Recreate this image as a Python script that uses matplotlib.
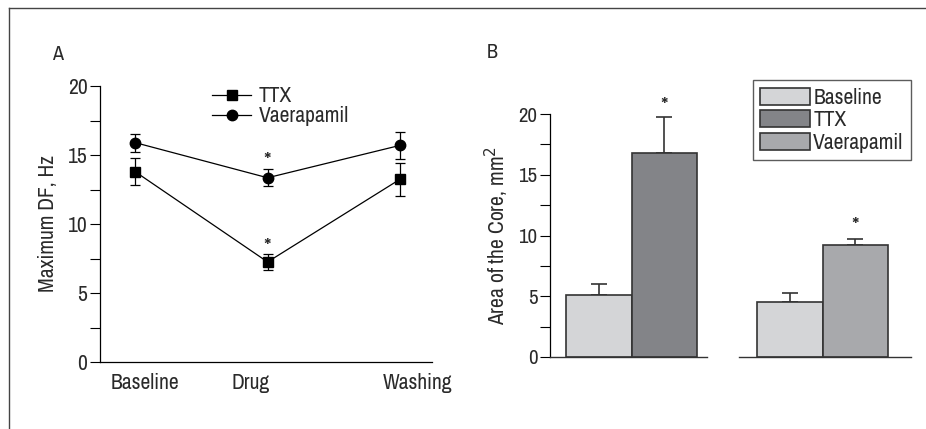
import numpy as np
import matplotlib
matplotlib.use("Agg")
import matplotlib.pyplot as plt
from matplotlib.lines import Line2D
from matplotlib.patches import Patch
from matplotlib.ticker import MultipleLocator

plt.rcParams['font.family'] = ['Archivo Narrow', 'DejaVu Sans']

# panel A data
phases = ["Baseline", "Drug", "Washing"]
ttx_df = [13.8, 7.25, 13.25]
ttx_err = [1.0, 0.55, 1.2]
ver_df = [15.9, 13.35, 15.7]
ver_err = [0.65, 0.63, 1.0]

# panel B data
groups = ["Baseline", "TTX", "Baseline", "Vaerapamil"]
core_ttx = [5.1, 16.8]
core_ttx_err = [0.9, 2.95]
core_ver = [4.55, 9.25]
core_ver_err = [0.7, 0.45]

c_text = '#2a2a2a'
c_base = '#d4d5d7'
c_ttx = '#838488'
c_ver = '#a8a9ac'
fs = 15.5

fig = plt.figure(figsize=(9.26, 4.29), dpi=100)

# outer frame (partly cut off in the reference)
fig.add_artist(Line2D([9/926, 1.0], [1 - 8/429, 1 - 8/429], transform=fig.transFigure, color='#444444', lw=1))
fig.add_artist(Line2D([9/926, 9/926], [0, 1 - 8/429], transform=fig.transFigure, color='#444444', lw=1))

# ----- Panel A -----
ax = fig.add_axes([100/926, 1 - 362/429, 332/926, 276/429])
x = np.arange(len(phases))
ax.errorbar(x, ttx_df, yerr=ttx_err, color='black', marker='s', ms=6.5, lw=0.9,
            capsize=3.5, elinewidth=0.9, capthick=0.9)
ax.errorbar(x, ver_df, yerr=ver_err, color='black', marker='o', ms=7.5, lw=0.9,
            capsize=3.5, elinewidth=0.9, capthick=0.9)
# significance marks just above the caps
ax.text(1, ver_df[1] + ver_err[1] + 0.45, '*', ha='center', va='center', fontsize=17, color=c_text)
ax.text(1, ttx_df[1] + ttx_err[1] + 0.45, '*', ha='center', va='center', fontsize=17, color=c_text)
ax.set_xlim(-0.264, 2.24)
ax.set_ylim(0, 20)
ax.yaxis.set_major_locator(MultipleLocator(5))
ax.yaxis.set_minor_locator(MultipleLocator(2.5))
ax.set_xticks([0.075, 0.87, 2.13])
ax.set_xticklabels(phases)
ax.tick_params(axis='x', length=0, pad=8, labelsize=fs, colors=c_text)
ax.tick_params(axis='y', which='both', length=7, width=0.8, direction='out', pad=2,
               labelsize=fs, labelcolor=c_text)
for s in ['top', 'right']:
    ax.spines[s].set_visible(False)
for s in ['left', 'bottom']:
    ax.spines[s].set_linewidth(0.9)
ax.set_ylabel('Maximum DF, Hz', fontsize=fs, color=c_text, labelpad=7)
leg_a = [Line2D([], [], color='black', marker='s', ms=6.5, lw=0.9),
         Line2D([], [], color='black', marker='o', ms=7.5, lw=0.9)]
ax.legend(leg_a, ['TTX', 'Vaerapamil'], loc='upper left', bbox_to_anchor=(0.28, 1.07),
          frameon=False, fontsize=fs, handlelength=1.8, handletextpad=0.35,
          labelspacing=0.0, labelcolor=c_text)
fig.text(58/926, 1 - 55/429, 'A', fontsize=14.5, color=c_text, ha='center', va='center')

# ----- Panel B -----
bw = 1.0
b1 = fig.add_axes([550/926, 1 - 357/429, 157/926, 243/429])
b2 = fig.add_axes([739/926, 1 - 357/429, 172/926, 243/429])

b1.bar([0, 1], core_ttx, width=bw, color=[c_base, c_ttx], edgecolor='#333333', lw=1.2, zorder=2)
b1.errorbar([0, 1], core_ttx, yerr=[[0, 0], core_ttx_err], fmt='none', ecolor='#333333',
            elinewidth=1.2, capsize=6, capthick=1.2, zorder=1)
b1.text(1, core_ttx[1] + core_ttx_err[1] + 0.8, '*', ha='center', va='center', fontsize=17, color=c_text)

b2.bar([0, 1], core_ver, width=bw, color=[c_base, c_ver], edgecolor='#333333', lw=1.2, zorder=2)
b2.errorbar([0, 1], core_ver, yerr=[[0, 0], core_ver_err], fmt='none', ecolor='#333333',
            elinewidth=1.2, capsize=6, capthick=1.2, zorder=1)
b2.text(1, core_ver[1] + core_ver_err[1] + 0.95, '*', ha='center', va='center', fontsize=17, color=c_text)

b1.set_xlim(-0.745, 1.65)
b2.set_xlim(-0.775, 1.85)
for a in (b1, b2):
    a.set_ylim(0, 20)
    a.set_xticks([])
    for s in ['top', 'right']:
        a.spines[s].set_visible(False)
    a.spines['bottom'].set_linewidth(1.0)
    a.spines['bottom'].set_color('#333333')
b2.spines['left'].set_visible(False)
b2.set_yticks([])

b1.spines['left'].set_linewidth(0.9)
b1.yaxis.set_major_locator(MultipleLocator(5))
b1.yaxis.set_minor_locator(MultipleLocator(2.5))
b1.tick_params(axis='y', which='both', length=7, width=0.8, direction='out', pad=2,
               labelsize=15, labelcolor=c_text)
b1.set_ylabel('Area of the Core, mm$^2$', fontsize=fs, color=c_text, labelpad=5)
fig.text(492/926, 1 - 52/429, 'B', fontsize=14.5, color=c_text, ha='center', va='center')

handles = [Patch(facecolor=c_base, edgecolor='#333333', lw=1.2),
           Patch(facecolor=c_ttx, edgecolor='#333333', lw=1.2),
           Patch(facecolor=c_ver, edgecolor='#333333', lw=1.2)]
leg = b2.legend(handles, [groups[0], groups[1], groups[3]], loc='upper right',
                bbox_to_anchor=(1.0, 1.14), fontsize=fs, frameon=True, fancybox=False,
                handlelength=2.3, handleheight=0.85, handletextpad=0.15, labelspacing=0.12,
                borderpad=0.35, borderaxespad=0, labelcolor=c_text)
leg.get_frame().set_edgecolor('#333333')
leg.get_frame().set_linewidth(1.0)

fig.savefig('out.png', dpi=100)
